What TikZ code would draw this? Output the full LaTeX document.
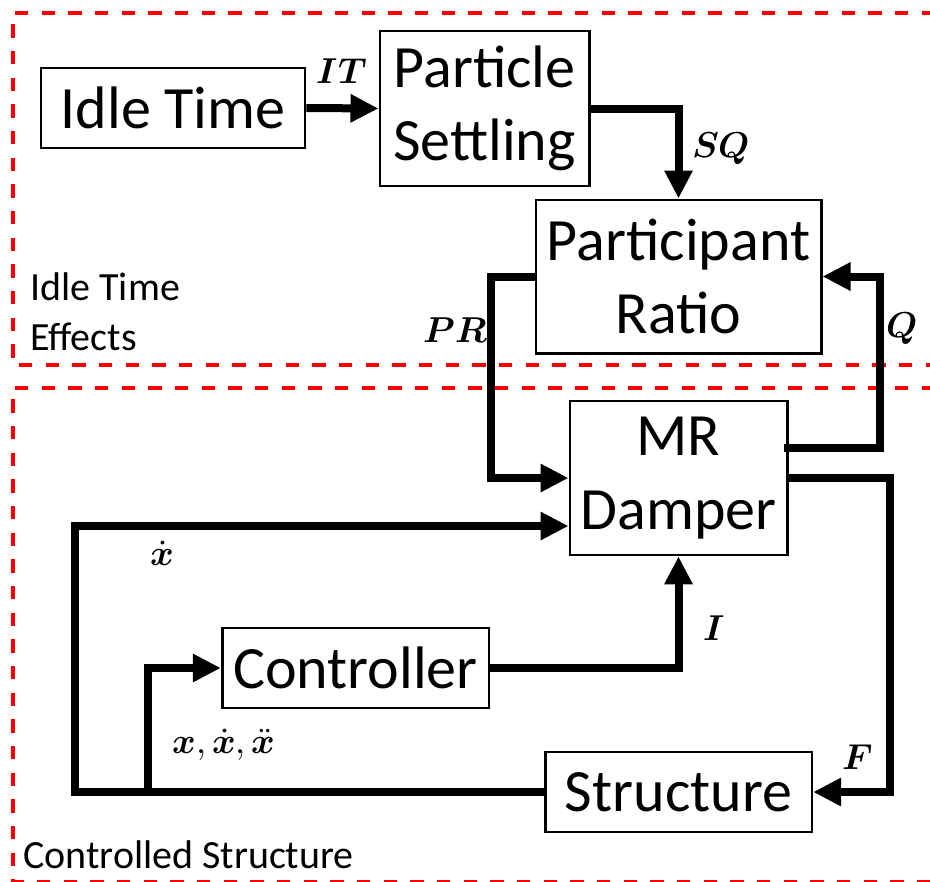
\documentclass[tikz,border=0pt]{standalone}
\usepackage{fontspec}
\usepackage{unicode-math}
\setmainfont{Carlito}
\setmathfont{Latin Modern Math}
\usetikzlibrary{arrows.meta,calc}

\begin{document}
\begin{tikzpicture}[
  x=0.75pt,y=-0.75pt,
  >={Triangle[length=21pt,width=20pt]},
  blk/.style={draw,line width=2pt,align=center,inner sep=0pt,font=\fontsize{45}{55}\selectfont},
  flow/.style={line width=6pt,->},
  zone/.style={draw=red,line width=3pt,dash pattern=on 10pt off 10pt},
  sym/.style={font=\fontsize{27}{32}\selectfont,inner sep=0pt},
  tag/.style={font=\fontsize{30}{38}\selectfont,align=left,inner sep=0pt}
]
\clip (0,0) rectangle (930,881);
% dashed zones
\draw[zone] (935,13) -- (13,13) -- (13,365) -- (935,365);
\draw[zone] (935,388) -- (13,388) -- (13,882) -- (935,882);
\node[tag,anchor=north west] (idletag) at (30,272) {Idle Time\\Effects};
\node[tag,anchor=base west] (ctrltag) at (23,868) {Controlled Structure};
% blocks
\node[blk,minimum width=198pt,minimum height=60pt] (idle) at (173,108) {Idle Time};
\node[blk,minimum width=157pt,minimum height=116pt] (settle) at (484.5,108.5) {Particle\\Settling};
\node[blk,minimum width=214pt,minimum height=115pt] (ratio) at (678.5,276.5) {Participant\\Ratio};
\node[blk,minimum width=163pt,minimum height=115.5pt] (damper) at (678.5,478) {MR\\Damper};
\node[blk,minimum width=200pt,minimum height=60pt] (ctrl) at (355.5,668) {Controller};
\node[blk,minimum width=200pt,minimum height=60pt] (struct) at (678.5,792) {Structure};
% idle time chain
\draw[flow] (idle.east) -- (settle.west);
\draw[flow] (settle.east) -| (ratio.north);
\draw[flow] (ratio.west) -- ++(-44,0) |- (damper.west);
\draw[flow] ($(damper.east)+(-5,-30)$) -| ($(ratio.east)+(57,0)$) -- (ratio.east);
% control loop
\coordinate (fbl) at (75,792);
\coordinate (tap) at (148,792);
\draw[flow] (damper.east) -| ($(struct.east)+(77,0)$) -- (struct.east);
\draw[flow] (struct.west) -- (fbl) |- ($(damper.west)+(0,48)$);
\draw[flow] (tap) |- (ctrl.west);
\draw[flow] (ctrl.east) -| (damper.south);
% signal labels
\node[sym] (lIT) at (342,71) {$\symbfit{IT}$};
\node[sym] (lSQ) at (721,148) {$\symbfit{SQ}$};
\node[sym] (lPR) at (456,330) {$\symbfit{PR}$};
\node[sym] (lQ) at (902,328) {$\symbfit{Q}$};
\node[sym] (lxd) at (162,553) {$\dot{\symbfit{x}}$};
\node[sym] (lstate) at (224,745) {$\symbfit{x},\dot{\symbfit{x}},\ddot{\symbfit{x}}$};
\node[sym] (lI) at (714,628) {$\symbfit{I}$};
\node[sym] (lF) at (858,757) {$\symbfit{F}$};
\end{tikzpicture}
\end{document}
